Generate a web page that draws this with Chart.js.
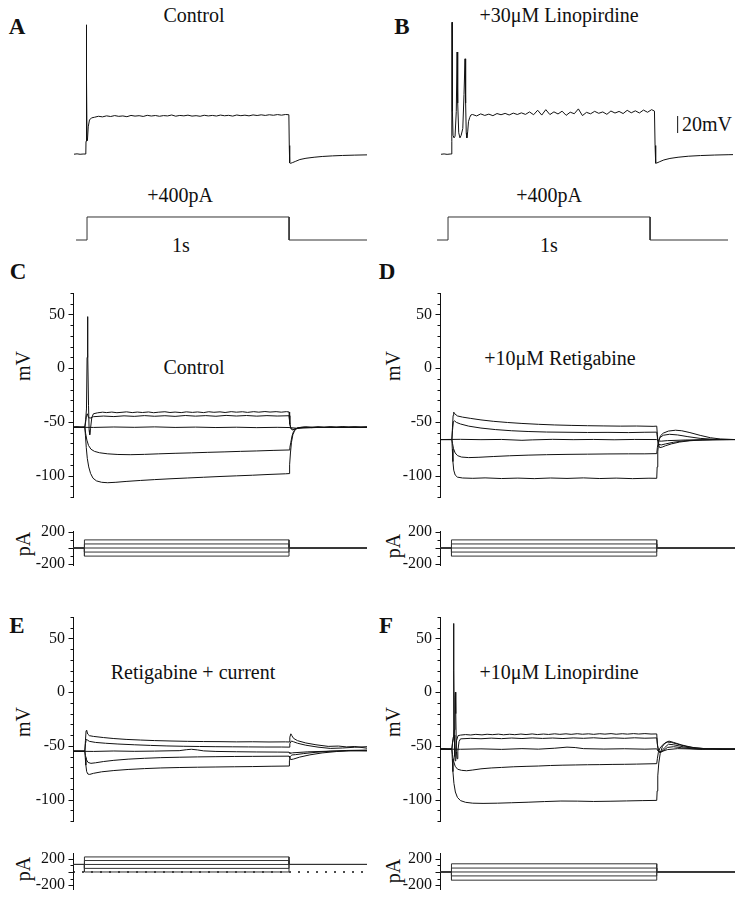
<!DOCTYPE html>
<html>
<head>
<meta charset="utf-8">
<script src="https://cdn.jsdelivr.net/npm/chart.js@4.4.1/dist/chart.umd.min.js"></script>
<style>
html, body { margin: 0; padding: 0; background: #fff; overflow: hidden; }
#fig { position: relative; width: 736px; height: 899px; overflow: hidden; font-family: 'Liberation Serif', 'Times New Roman', serif; color: #111; }
#fig canvas { position: absolute; }
.lbl { position: absolute; transform: translate(-50%, -50%); white-space: nowrap; font-size: 20px; line-height: 1; }
.letter { font-weight: bold; font-size: 23px; }
.rot { transform: translate(-50%, -50%) rotate(-90deg); }
</style>
</head>
<body>
<div id="fig">
  <div class="lbl letter" style="left:17px;top:26px">A</div>
  <div class="lbl letter" style="left:402px;top:26px">B</div>
  <div class="lbl letter" style="left:18px;top:271px">C</div>
  <div class="lbl letter" style="left:387px;top:271px">D</div>
  <div class="lbl letter" style="left:17px;top:625px">E</div>
  <div class="lbl letter" style="left:386px;top:625px">F</div>

  <div class="lbl" style="left:194px;top:15px">Control</div>
  <div class="lbl" style="left:559px;top:15px">+30μM Linopirdine</div>
  <div class="lbl" style="left:180px;top:195px">+400pA</div>
  <div class="lbl" style="left:549px;top:195px">+400pA</div>
  <div class="lbl" style="left:181px;top:245px">1s</div>
  <div class="lbl" style="left:549px;top:245px">1s</div>
  <div class="lbl" style="left:707px;top:124px">20mV</div>

  <div class="lbl" style="left:194px;top:367px">Control</div>
  <div class="lbl" style="left:560px;top:358px">+10μM Retigabine</div>
  <div class="lbl" style="left:193px;top:672px">Retigabine + current</div>
  <div class="lbl" style="left:559px;top:672px">+10μM Linopirdine</div>

  <div class="lbl rot" style="left:23px;top:366px">mV</div>
  <div class="lbl rot" style="left:393px;top:366px">mV</div>
  <div class="lbl rot" style="left:23px;top:722px">mV</div>
  <div class="lbl rot" style="left:393px;top:722px">mV</div>
  <div class="lbl rot" style="left:23px;top:544px">pA</div>
  <div class="lbl rot" style="left:393px;top:546px">pA</div>
  <div class="lbl rot" style="left:23px;top:869px">pA</div>
  <div class="lbl rot" style="left:393px;top:871px">pA</div>
</div>
<script>
// time in ms, voltage in mV, current in pA
const tMax = 1440;
const stepOn = 56, stepOff = 1058;      // current step, panels C-F
const stepOnAB = 64, stepOffAB = 1057;  // current step, panels A-B
const stepAmpAB = 400;

// axis tick labels
const mvTicks = [-100, -50, 0, 50];
const paTicks = [-200, 0, 200];

// A: control, +400 pA
const traceA = [[0,-70.2],[15,-69.8],[30,-70.3],[45,-70],[58,-70],[59,-55],[60,-52],[61,20],[62,82],[63,20],[64,-52],[66,-54],[70,-38],[76,-30],[86,-27.5],
  [100,-26.8],[120,-25.6],[140,-26.3],[160,-25.1],[180,-25.9],[200,-24.8],[220,-25.7],[240,-25.2],[260,-26.1],[280,-24.6],[300,-25.4],[320,-24.9],
  [340,-25.8],[360,-24.5],[380,-25.3],[400,-24.7],[420,-25.6],[440,-24.8],[460,-25.2],[480,-24.1],[500,-25.5],[520,-24.6],[540,-25.1],[560,-24.3],
  [580,-25.4],[600,-24.9],[620,-25.6],[640,-24.4],[660,-25.2],[680,-24.6],[700,-25.3],[720,-24.2],[740,-25],[760,-24.5],[780,-25.4],[800,-24.1],
  [820,-24.9],[840,-24.3],[860,-25.1],[880,-24],[900,-24.7],[920,-23.9],[940,-24.6],[960,-23.8],[980,-24.4],[1000,-23.6],[1020,-24.3],[1040,-23.5],
  [1056,-23.8],[1058,-60],[1060,-80.5],[1064,-81],[1075,-80],[1090,-78.5],[1110,-76.5],[1140,-75],[1180,-73.8],[1220,-72.9],[1270,-72.2],
  [1320,-71.7],[1380,-71.3],[1440,-71]];

// B: +30 uM linopirdine, +400 pA
const traceB = [[5,-70.3],[20,-69.9],[35,-70.4],[50,-70],[57,-70],[58,-55],[59,85],[61,-20],[64,-48],[69,-51],[74,-49],[80,-20],[84,50],[87,-10],
  [92,-45],[98,-51],[104,-48],[112,-40],[118,0],[123,42],[126,-10],[129,-45],[132,-51],[136,-44],[140,-32],[146,-27],[152,-24],
  [160,-23.5],[180,-25.2],[200,-22.8],[220,-24.6],[240,-23.1],[260,-24.9],[280,-22.4],[300,-23.8],[320,-22.2],[340,-24.1],[360,-21.9],[380,-23.5],
  [400,-21.6],[420,-23.4],[440,-20.5],[460,-23.8],[480,-18.5],[500,-24.2],[520,-17.8],[540,-23.6],[560,-20.4],[580,-22.9],[600,-19.6],[620,-24.5],
  [640,-20.8],[660,-22.6],[680,-16.9],[700,-24.8],[720,-21],[740,-22.7],[760,-19.8],[780,-22.1],[800,-20.5],[820,-23.3],[840,-19.4],[860,-21.8],
  [880,-19.9],[900,-22.4],[920,-18.6],[940,-21.5],[960,-19.2],[980,-21.7],[1000,-18.3],[1020,-20.9],[1040,-17.8],[1054,-19.5],
  [1057,-60],[1060,-80.8],[1066,-80.5],[1080,-79],[1100,-77],[1130,-75.2],[1170,-73.8],[1220,-72.6],[1280,-71.8],[1350,-71.2],[1420,-70.8],[1440,-70.7]];

// 20 mV scale bar
const scaleBar = [[1168,-45.3],[1168,-25.3]];

// C: control
const cTrace1 = [[0,-55],[20,-54.6],[40,-55.3],[58,-55],[62,-48],[66,-38],[69,10],[71,48],[73,15],[76,-35],[79,-58],[82,-62],[86,-56],[92,-46],
  [100,-42.5],[120,-41.6],[145,-41],[165,-41.4],[190,-40.9],[215,-41.5],[240,-41.1],[262,-40.7],[290,-41.4],[315,-40.9],[340,-41.3],[370,-40.8],
  [395,-41.5],[420,-41],[450,-40.6],[475,-41.3],[500,-40.9],[530,-41.4],[555,-40.7],[585,-41.2],[610,-40.8],[640,-41.4],[665,-40.6],[690,-41.1],
  [720,-40.7],[745,-41.3],[775,-40.5],[800,-41],[830,-40.6],[855,-41.2],[885,-40.5],[910,-41],[940,-40.4],[965,-40.9],[995,-40.5],[1020,-41],
  [1045,-40.5],[1058,-40.8],[1061,-50],[1066,-56],[1075,-57.5],[1090,-56.5],[1110,-55.3],[1140,-54.7],[1170,-55.4],[1200,-54.6],[1230,-55.3],
  [1260,-54.5],[1290,-55.2],[1320,-54.4],[1350,-55.1],[1380,-54.6],[1410,-55.3],[1440,-54.8]];
const cTrace2 = [[0,-55],[58,-55],[62,-50],[66,-44],[70,-42.5],[76,-46],[84,-46.5],[100,-45.2],[150,-44.6],[200,-45.1],[250,-44.4],[300,-44.9],
  [350,-44.2],[400,-44.8],[450,-44.3],[500,-44.9],[550,-44.1],[600,-44.7],[650,-44.2],[700,-44.8],[750,-44],[800,-44.6],[850,-44.1],[900,-44.7],
  [950,-44.2],[1000,-44.6],[1058,-44.3],[1062,-52],[1068,-56.5],[1080,-57],[1100,-56],[1130,-55.2],[1440,-55]];
const cTrace3 = [[0,-55],[100,-55.2],[200,-54.8],[300,-55.1],[400,-54.7],[500,-55.2],[600,-54.9],[700,-55.3],[800,-55],[900,-55.4],[1000,-55.1],
  [1058,-55.3],[1100,-56],[1200,-55.2],[1440,-55]];
const cTrace4 = [[0,-55],[58,-55],[62,-61],[68,-67],[76,-72],[88,-75.5],[105,-77.5],[130,-78.8],[170,-79.8],[220,-80.4],[280,-80.6],[350,-80.3],
  [420,-79.8],[500,-79.3],[580,-78.9],[660,-78.4],[740,-78],[820,-77.5],[900,-77.1],[980,-76.6],[1058,-76.2],[1062,-74],[1067,-69],[1073,-63],
  [1080,-59],[1090,-56.5],[1105,-55.4],[1130,-55],[1440,-55]];
const cTrace5 = [[0,-55],[58,-55],[61,-63],[65,-74],[70,-84],[77,-92],[86,-98],[98,-102.5],[115,-105],[140,-106.3],[170,-106.7],[210,-106.3],
  [260,-105.5],[330,-104.6],[400,-103.8],[480,-103],[560,-102.3],[640,-101.6],[720,-100.9],[800,-100.3],[880,-99.7],[960,-99],[1040,-98.4],
  [1058,-98.2],[1061,-90],[1065,-79],[1070,-69],[1077,-62],[1086,-58],[1098,-56],[1115,-55.2],[1440,-55]];
const cLevels = [-100, -50, 0, 50, 100];

// D: +10 uM retigabine
const dTrace1 = [[0,-66.5],[58,-66.5],[61,-55],[64,-44],[67,-41],[72,-42.5],[85,-44.5],[110,-45.6],[150,-46.8],[200,-48.2],[260,-49.5],[330,-50.6],
  [400,-51.5],[480,-52.3],[560,-52.9],[640,-53.3],[720,-53.6],[800,-53.8],[880,-54],[960,-53.9],[1040,-54.2],[1058,-54],[1061,-62],[1065,-70],
  [1072,-74],[1085,-73.5],[1100,-72.3],[1130,-70.5],[1170,-68.8],[1220,-67.6],[1280,-66.9],[1350,-66.6],[1440,-66.5]];
const dTrace2 = [[0,-66.5],[58,-66.5],[61,-58],[65,-50],[70,-49],[80,-50.5],[100,-52],[140,-54],[200,-55.8],[270,-57.2],[350,-58.3],[430,-59],
  [520,-59.5],[620,-59.7],[720,-59.9],[820,-59.8],[920,-60],[1000,-59.7],[1058,-59.6],[1062,-66],[1068,-71],[1080,-71.5],[1100,-70.6],[1140,-69],
  [1190,-67.7],[1250,-67],[1330,-66.6],[1440,-66.5]];
const dTrace3 = [[0,-66.5],[100,-66.3],[200,-66.6],[300,-66.4],[400,-67.2],[450,-66.8],[550,-66.3],[650,-66.6],[750,-66.4],[850,-66.7],[950,-66.4],
  [1058,-66.5],[1065,-67.8],[1080,-68],[1110,-67.5],[1200,-66.9],[1440,-66.5]];
const dTrace4 = [[0,-66.5],[58,-66.5],[61,-70],[66,-75],[74,-79],[86,-81.5],[105,-82.8],[140,-83.3],[190,-83],[260,-82.3],[340,-81.6],[430,-81],
  [520,-80.6],[620,-80.3],[720,-80.1],[820,-79.9],[920,-79.8],[1000,-79.8],[1058,-79.6],[1061,-74],[1066,-68],[1074,-64.5],[1090,-62.5],
  [1120,-61.6],[1160,-62.2],[1210,-63.8],[1270,-65.4],[1340,-66.3],[1440,-66.5]];
const dTrace5 = [[0,-66.5],[58,-66.5],[60,-75],[63,-87],[67,-95],[74,-99.5],[85,-101.5],[110,-102.3],[160,-102.6],[220,-102.2],[300,-102.8],
  [380,-102.4],[460,-102.9],[540,-102.3],[620,-102.7],[700,-102.2],[780,-102.8],[860,-102.4],[940,-102.9],[1020,-102.5],[1058,-102.6],[1060,-92],
  [1063,-78],[1068,-68],[1076,-63],[1090,-60.5],[1115,-58.6],[1150,-57.8],[1180,-58.3],[1220,-60],[1270,-62.6],[1320,-64.8],[1370,-66],[1440,-66.5]];
const dLevels = [-100, -50, 0, 50, 100];

// E: retigabine + holding current
const eTrace1 = [[0,-55],[58,-55],[61,-45],[64,-36],[67,-35.5],[72,-39],[80,-40.5],[100,-41.2],[150,-42.3],[200,-43.2],[260,-44],[330,-44.6],
  [400,-45.1],[480,-45.5],[560,-45.8],[640,-46],[720,-46.1],[800,-46.3],[880,-46.2],[960,-46.4],[1040,-46.3],[1058,-46.4],[1062,-42],[1067,-38.8],
  [1072,-40.5],[1080,-43],[1100,-45.2],[1140,-47.3],[1190,-49],[1250,-50.5],[1300,-50.2],[1340,-51],[1380,-50.6],[1440,-52.2]];
const eTrace2 = [[0,-55],[58,-55],[61,-48],[65,-44],[70,-44.5],[80,-45.8],[110,-46.8],[160,-47.6],[220,-48.3],[300,-49],[380,-49.6],[460,-50.1],
  [540,-50.4],[620,-50.6],[700,-50.8],[780,-50.9],[860,-51],[940,-51.1],[1020,-51.1],[1058,-51.2],[1062,-48],[1070,-45.5],[1080,-46.2],
  [1100,-47.6],[1140,-49.4],[1200,-51.2],[1260,-52.4],[1320,-52],[1380,-51.3],[1440,-50.8]];
const eTrace3 = [[0,-55],[100,-55.2],[200,-54.8],[300,-55.1],[400,-54.9],[480,-54.6],[520,-54.5],[555,-53.6],[580,-53.2],[610,-53.8],[640,-54.7],
  [700,-55.2],[800,-55.5],[900,-55.7],[1000,-55.8],[1058,-55.9],[1062,-57],[1075,-56.5],[1150,-55.6],[1250,-55],[1350,-54.6],[1440,-54.8]];
const eTrace4 = [[0,-55],[58,-55],[61,-59],[66,-63],[74,-65.5],[88,-66.3],[110,-65.8],[150,-64.6],[200,-63.5],[270,-62.4],[350,-61.6],[430,-61],
  [520,-60.6],[610,-60.3],[700,-60.1],[790,-59.9],[880,-59.8],[970,-59.7],[1058,-59.6],[1061,-61],[1066,-62.8],[1080,-62.3],[1110,-60.5],
  [1160,-58.4],[1220,-56.6],[1290,-55.3],[1360,-54.5],[1440,-54.2]];
const eTrace5 = [[0,-55],[58,-55],[60,-61],[63,-68],[67,-74],[73,-76.3],[82,-76.6],[100,-75.6],[140,-74.2],[200,-73],[270,-72],[350,-71.2],
  [430,-70.6],[520,-70.2],[610,-69.9],[700,-69.7],[790,-69.5],[880,-69.3],[970,-69],[1058,-68.8],[1060,-64],[1064,-60],[1072,-58.5],[1090,-58.2],
  [1130,-57.2],[1190,-56],[1260,-55],[1340,-54.3],[1440,-54]];
const eLevels = [0, 55, 115, 175, 230];
const eHolding = 115;

// F: +10 uM linopirdine
const fTrace1 = [[0,-53],[20,-52.6],[40,-53.4],[58,-53],[61,-48],[64,-42],[66,20],[67,64],[68,20],[70,-40],[72,-60],[74,-64],[77,-55],[81,-45],
  [88,-40.5],[100,-40],[125,-39.5],[150,-39.9],[175,-39.3],[205,-39.8],[230,-39.2],[255,-39.6],[285,-39.1],[310,-39.7],[340,-39.2],[365,-39.6],
  [395,-39],[420,-39.5],[450,-38.9],[475,-39.5],[505,-39],[530,-39.4],[560,-38.8],[585,-39.3],[615,-38.8],[640,-39.3],[670,-38.7],[695,-39.2],
  [725,-38.8],[750,-39.3],[780,-38.7],[805,-39.1],[835,-38.6],[860,-39.2],[890,-38.7],[915,-39.1],[945,-38.6],[970,-39],[1000,-38.6],[1030,-39],
  [1058,-38.9],[1061,-48],[1066,-55],[1074,-56.5],[1090,-54.5],[1110,-51.5],[1140,-50.8],[1180,-51.8],[1230,-52.7],[1280,-53.3],[1330,-52.8],
  [1380,-53.4],[1440,-53]];
const fTrace2 = [[0,-53],[58,-53],[61,-47],[66,-43],[70,-35],[73,-5],[75,0],[77,-20],[80,-55],[83,-62],[87,-55],[93,-46],[100,-43.5],[150,-43],
  [200,-43.4],[250,-42.8],[300,-43.3],[350,-42.7],[400,-43.2],[450,-42.6],[500,-43.1],[550,-42.7],[600,-43.2],[650,-42.6],[700,-43],[750,-42.5],
  [800,-43.1],[850,-42.6],[900,-43],[950,-42.5],[1000,-42.9],[1058,-42.6],[1062,-50],[1068,-55.5],[1078,-55.8],[1095,-52],[1115,-48.5],[1140,-49],
  [1190,-51],[1250,-52.6],[1320,-53],[1440,-53]];
const fTrace3 = [[0,-53],[100,-53.2],[200,-52.8],[300,-53.3],[400,-52.6],[480,-53.1],[560,-52.2],[620,-51.2],[660,-51.6],[700,-52.6],[800,-53],
  [900,-52.7],[1000,-53.1],[1058,-52.8],[1065,-55],[1080,-55.5],[1110,-53.5],[1160,-52.6],[1250,-53],[1440,-53]];
const fTrace4 = [[0,-53],[58,-53],[61,-58],[66,-64],[74,-69],[86,-71.8],[105,-72.8],[130,-73.2],[160,-72.5],[200,-71.4],[250,-70.6],[300,-70.1],
  [360,-69.5],[420,-69.1],[480,-68.8],[540,-68.3],[600,-68],[660,-67.8],[720,-67.6],[780,-67.5],[840,-67.3],[900,-67.2],[960,-67],[1058,-66.6],
  [1061,-62],[1066,-56],[1074,-52],[1090,-48.5],[1110,-46.5],[1130,-46.8],[1160,-48.5],[1200,-50.5],[1250,-52],[1310,-52.8],[1440,-53]];
const fTrace5 = [[0,-53],[58,-53],[60,-62],[63,-74],[68,-85],[75,-93],[85,-98],[100,-101],[125,-102.6],[160,-103.4],[210,-103.6],[280,-103.4],
  [350,-103],[430,-102.5],[510,-101.9],[590,-101.4],[670,-101.5],[750,-101.8],[830,-101.6],[910,-101.3],[990,-101],[1058,-100.8],[1060,-92],
  [1063,-78],[1068,-66],[1075,-57],[1086,-50.5],[1100,-47],[1118,-45.6],[1140,-46.8],[1180,-49.2],[1230,-51.4],[1290,-52.6],[1440,-53]];
const fLevels = [-125, -60, 0, 60, 125];

const ink = '#111';
const stepInk = '#333';
const fig = document.getElementById('fig');
Chart.defaults.font.family = "'Liberation Serif', 'Times New Roman', serif";
Chart.defaults.color = '#111';

// short tick marks on the left axis (long at labelled values)
Chart.register({
  id: 'axisTicks',
  afterDraw(chart, args, opts) {
    if (!opts || !opts.step) return;
    const s = chart.scales.y, ctx = chart.ctx;
    const x0 = Math.round(chart.chartArea.left) + 0.5;
    ctx.save();
    ctx.strokeStyle = ink;
    ctx.lineWidth = 1;
    ctx.beginPath();
    for (let v = Math.ceil(s.min / opts.step) * opts.step; v <= s.max; v += opts.step) {
      const y = Math.round(s.getPixelForValue(v)) + 0.5;
      const len = opts.labels.includes(v) ? 5 : 3;
      ctx.moveTo(x0 - len, y);
      ctx.lineTo(x0, y);
    }
    ctx.stroke();
    ctx.restore();
  }
});

function xy(arr) {
  return arr.map(p => ({ x: p[0], y: p[1] }));
}

function line(arr, extra) {
  return Object.assign({ data: xy(arr), borderColor: ink, borderWidth: 1, pointRadius: 0, tension: 0 }, extra || {});
}

function stepTrace(level, hold, on, off, start) {
  return [[start, hold], [on, hold], [on, level], [off, level], [off, hold], [tMax, hold]];
}

// box: canvas position/size; pad = room above/below the plot area for tick labels
function addChart(box, datasets, yMin, yMax, axis) {
  const pad = axis ? 20 : 0;
  const c = document.createElement('canvas');
  c.width = box.w;
  c.height = box.h + 2 * pad;
  c.style.left = box.x + 'px';
  c.style.top = (box.y - pad) + 'px';
  fig.appendChild(c);

  const yScale = axis ? {
    min: yMin, max: yMax,
    afterFit: s => { s.width = 60; },
    afterBuildTicks: s => { s.ticks = axis.labels.map(v => ({ value: v })); },
    grid: { display: false, drawTicks: false },
    border: { display: true, color: ink, width: 1 },
    ticks: { padding: 8, color: '#111', font: { size: 16 } }
  } : { display: false, min: yMin, max: yMax };

  return new Chart(c, {
    type: 'line',
    data: { datasets },
    options: {
      responsive: false,
      animation: false,
      events: [],
      layout: { padding: { top: pad, bottom: pad, left: 0, right: 0 } },
      plugins: { legend: { display: false }, tooltip: { enabled: false }, axisTicks: axis || false },
      scales: {
        x: { type: 'linear', display: false, min: 0, max: tMax },
        y: yScale
      }
    }
  });
}

const mvAxis = { labels: mvTicks, step: 10 };
const paAxis = { labels: paTicks, step: 100 };
const stepLine = arr => line(arr, { borderColor: stepInk });

// A / B
const currentAB = stepTrace(stepAmpAB, 0, stepOnAB, stepOffAB, 10);
addChart({ x: 74, y: 18, w: 293, h: 152 }, [line(traceA)], -88.8, 90);
addChart({ x: 74, y: 211, w: 293, h: 35 }, [stepLine(currentAB)], -104, 504);
addChart({ x: 440, y: 18, w: 293, h: 152 }, [line(traceB), line(scaleBar)], -88.8, 90);
addChart({ x: 435, y: 211, w: 293, h: 35 }, [stepLine(currentAB)], -104, 504);

// C / D  (plot area: x from 73 / 440, voltage 293-497, current 531-565)
addChart({ x: 13, y: 293, w: 354, h: 204 },
  [cTrace5, cTrace4, cTrace3, cTrace2, cTrace1].map(t => line(t)), -120, 70, mvAxis);
addChart({ x: 13, y: 531, w: 354, h: 34 },
  cLevels.map(l => stepLine(stepTrace(l, 0, stepOn, stepOff, 0))), -210, 210, paAxis);
addChart({ x: 380, y: 293, w: 355, h: 204 },
  [dTrace5, dTrace4, dTrace3, dTrace2, dTrace1].map(t => line(t)), -120, 70, mvAxis);
addChart({ x: 380, y: 531, w: 355, h: 34 },
  dLevels.map(l => stepLine(stepTrace(l, 0, stepOn, stepOff, 0))), -210, 210, paAxis);

// E / F  (voltage 617-821, current 853-889)
addChart({ x: 13, y: 617, w: 354, h: 204 },
  [eTrace5, eTrace4, eTrace3, eTrace2, eTrace1].map(t => line(t)), -120, 70, mvAxis);
addChart({ x: 13, y: 853, w: 354, h: 36 },
  eLevels.map(l => stepLine(stepTrace(l, eHolding, stepOn, stepOff, 0)))
    .concat([line([[0, 0], [tMax, 0]], { borderDash: [2, 7], borderWidth: 1.5 })]), -260, 290, paAxis);
addChart({ x: 380, y: 617, w: 355, h: 204 },
  [fTrace5, fTrace4, fTrace3, fTrace2, fTrace1].map(t => line(t)), -120, 70, mvAxis);
addChart({ x: 380, y: 853, w: 355, h: 36 },
  fLevels.map(l => stepLine(stepTrace(l, 0, stepOn, stepOff, 0))), -260, 290, paAxis);
</script>
</body>
</html>
